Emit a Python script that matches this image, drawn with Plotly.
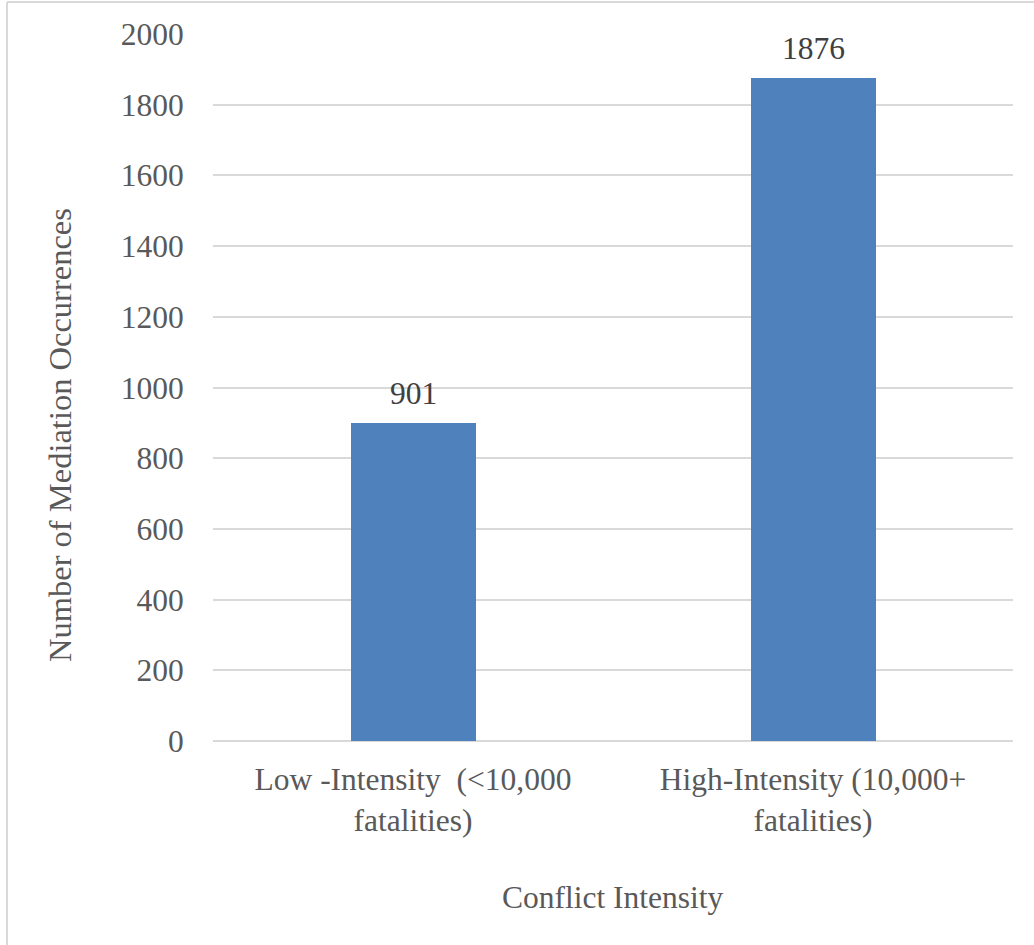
import plotly.graph_objects as go

# Data
categories = ["Low -Intensity  (<10,000<br>fatalities)", "High-Intensity (10,000+<br>fatalities)"]
occurrences = [901, 1876]
y_ticks = [0, 200, 400, 600, 800, 1000, 1200, 1400, 1600, 1800, 2000]

W, H = 1034, 945
L, R, T, B = 213, 21, 34, 204
plot_w = W - L - R
plot_h = H - T - B

FONT = "Liberation Serif, Times New Roman, serif"
FS = 31.5
TICK_COLOR = "#595959"
GRID = "#D9D9D9"


def px_to_paper_x(px):
    return (px - L) / plot_w


def px_to_paper_y(py):
    return (H - B - py) / plot_h


fig = go.Figure(
    go.Bar(
        x=categories,
        y=occurrences,
        width=0.3125,
        marker=dict(color="#4F81BD", line=dict(width=0)),
        hoverinfo="x+y",
    )
)

# Value labels above each bar
for cat, val in zip(categories, occurrences):
    fig.add_annotation(
        x=cat, y=val, text=str(val), showarrow=False,
        yanchor="bottom", yshift=10,
        font=dict(family=FONT, size=FS, color="#404040"),
    )

# Axis titles
fig.add_annotation(
    xref="paper", yref="paper",
    x=px_to_paper_x(60), y=px_to_paper_y(435),
    text="Number of Mediation Occurrences", textangle=-90,
    showarrow=False, xanchor="center", yanchor="middle",
    font=dict(family=FONT, size=32.5, color=TICK_COLOR),
)
fig.add_annotation(
    xref="paper", yref="paper",
    x=px_to_paper_x(613), y=px_to_paper_y(897),
    text="Conflict Intensity",
    showarrow=False, xanchor="center", yanchor="middle",
    font=dict(family=FONT, size=FS, color=TICK_COLOR),
)

# Chart-area frame (left and top edges)
frame = dict(color=GRID, width=2)
fig.add_shape(type="line", xref="paper", yref="paper",
              x0=px_to_paper_x(7), x1=px_to_paper_x(7),
              y0=px_to_paper_y(2), y1=px_to_paper_y(H + 5), line=frame)
fig.add_shape(type="line", xref="paper", yref="paper",
              x0=px_to_paper_x(7), x1=px_to_paper_x(W + 5),
              y0=px_to_paper_y(2), y1=px_to_paper_y(2), line=frame)

fig.update_layout(
    width=W, height=H,
    margin=dict(l=L, r=R, t=T, b=B, pad=0),
    paper_bgcolor="white", plot_bgcolor="white",
    showlegend=False,
    bargap=0,
    font=dict(family=FONT, size=FS, color=TICK_COLOR),
    xaxis=dict(
        showgrid=False, showline=False, zeroline=False,
        ticks="outside", ticklen=10, tickcolor="rgba(0,0,0,0)",
        tickfont=dict(family=FONT, size=FS, color=TICK_COLOR),
    ),
    yaxis=dict(
        range=[0, 2000], tickvals=y_ticks,
        showgrid=True, gridcolor=GRID, gridwidth=1.5,
        zeroline=True, zerolinecolor=GRID, zerolinewidth=1.5,
        showline=False,
        ticks="outside", ticklen=22, tickcolor="rgba(0,0,0,0)",
        tickfont=dict(family=FONT, size=FS, color=TICK_COLOR),
    ),
)

fig.write_html("out.html")
